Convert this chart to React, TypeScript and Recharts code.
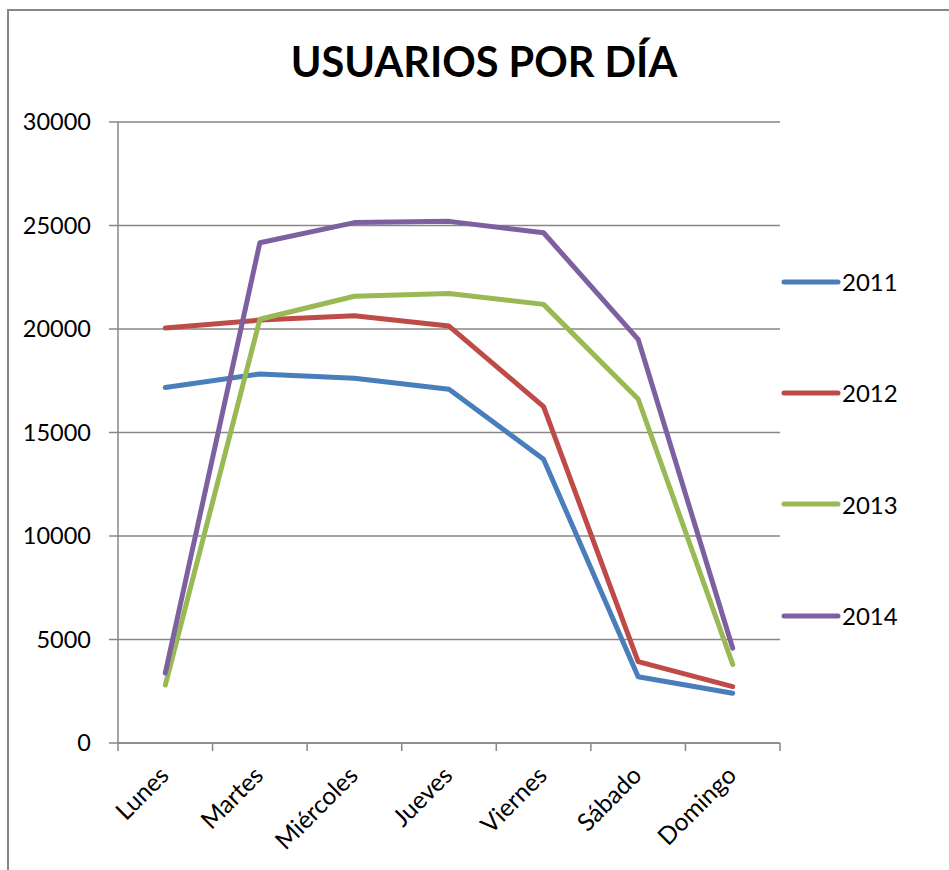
import React from 'react'
import { LineChart, Line, XAxis, YAxis, CartesianGrid, Legend } from 'recharts'

const days = ['Lunes', 'Martes', 'Miércoles', 'Jueves', 'Viernes', 'Sábado', 'Domingo']
const y2011 = [17170, 17830, 17620, 17090, 13710, 3200, 2400]
const y2012 = [20050, 20430, 20640, 20140, 16250, 3930, 2720]
const y2013 = [2800, 20470, 21580, 21720, 21190, 16620, 3800]
const y2014 = [3380, 24170, 25140, 25200, 24650, 19500, 4580]
const yTicks = [0, 5000, 10000, 15000, 20000, 25000, 30000]
// tick marks sit between days, labels sit on each day
const xTicks = [0, 0.5, 1, 1.5, 2, 2.5, 3, 3.5, 4, 4.5, 5, 5.5, 6, 6.5, 7]

const series = [
  { key: 'y2011', name: '2011', color: '#4a7ebb' },
  { key: 'y2012', name: '2012', color: '#be4b48' },
  { key: 'y2013', name: '2013', color: '#98b954' },
  { key: 'y2014', name: '2014', color: '#7d60a0' },
]

const data = days.map((day, i) => ({
  day,
  pos: i + 0.5,
  y2011: y2011[i],
  y2012: y2012[i],
  y2013: y2013[i],
  y2014: y2014[i],
}))

const FONT = 'Lato, "Open Sans", sans-serif'
const GRAY = '#878787'

function DayTick({ x, y, payload }: any) {
  const v = payload.value
  if (Number.isInteger(v)) {
    return <line x1={x} y1={y} x2={x} y2={y + 8} stroke={GRAY} strokeWidth={1.5} />
  }
  const ax = x + 5
  const ay = y + 34
  return (
    <text
      x={ax}
      y={ay}
      transform={`rotate(-45, ${ax}, ${ay})`}
      textAnchor="end"
      fill="#000"
      fontSize={24.5}
      fontFamily={FONT}
    >
      {days[Math.floor(v)]}
    </text>
  )
}

function LegendBox() {
  return (
    <div style={{ fontFamily: FONT, fontSize: 24, color: '#000' }}>
      {series.map((s) => (
        <div key={s.key} style={{ height: 111.3, display: 'flex', alignItems: 'center' }}>
          <svg width={61} height={8} style={{ display: 'block' }}>
            <line x1={3} y1={4} x2={57} y2={4} stroke={s.color} strokeWidth={5} strokeLinecap="round" />
          </svg>
          <span>{s.name}</span>
        </div>
      ))}
    </div>
  )
}

export default function App() {
  return (
    <div style={{ position: 'fixed', left: 0, top: 0, width: 949, height: 870, overflow: 'hidden', background: '#fff' }}>
      <div
        style={{
          position: 'absolute',
          left: 7,
          top: 9,
          width: 1000,
          height: 1000,
          borderLeft: `2px solid ${GRAY}`,
          borderTop: `2px solid ${GRAY}`,
        }}
      />
      <div
        style={{
          position: 'absolute',
          left: 184,
          width: 600,
          top: 35,
          textAlign: 'center',
          fontFamily: FONT,
          fontWeight: 700,
          fontSize: 41.5,
          lineHeight: '52px',
          color: '#000',
          zIndex: 2,
        }}
      >
        USUARIOS POR DÍA
      </div>
      <div style={{ position: 'absolute', left: 0, top: 0 }}>
        <LineChart width={949} height={870} data={data} margin={{ top: 122, right: 169, bottom: 0, left: 0 }}>
          <CartesianGrid vertical={false} stroke={GRAY} strokeWidth={1.5} />
          <XAxis
            dataKey="pos"
            type="number"
            domain={[0, 7]}
            ticks={xTicks}
            interval={0}
            tick={<DayTick />}
            tickLine={false}
            tickSize={0}
            tickMargin={0}
            height={127}
            axisLine={{ stroke: GRAY, strokeWidth: 1.5 }}
          />
          <YAxis
            width={118}
            domain={[0, 30000]}
            ticks={yTicks}
            tickSize={9}
            tickMargin={18}
            tick={{ fill: '#000', fontSize: 23.5, fontFamily: FONT }}
            axisLine={{ stroke: GRAY, strokeWidth: 1.5 }}
            tickLine={{ stroke: GRAY, strokeWidth: 1.5 }}
          />
          <Legend
            layout="vertical"
            align="center"
            verticalAlign="middle"
            content={<LegendBox />}
            wrapperStyle={{ left: 781, top: 226, width: 168, height: 445 }}
          />
          {series.map((s) => (
            <Line
              key={s.key}
              type="linear"
              dataKey={s.key}
              name={s.name}
              stroke={s.color}
              strokeWidth={5}
              strokeLinecap="round"
              strokeLinejoin="round"
              dot={false}
              activeDot={false}
              isAnimationActive={false}
            />
          ))}
        </LineChart>
      </div>
    </div>
  )
}
